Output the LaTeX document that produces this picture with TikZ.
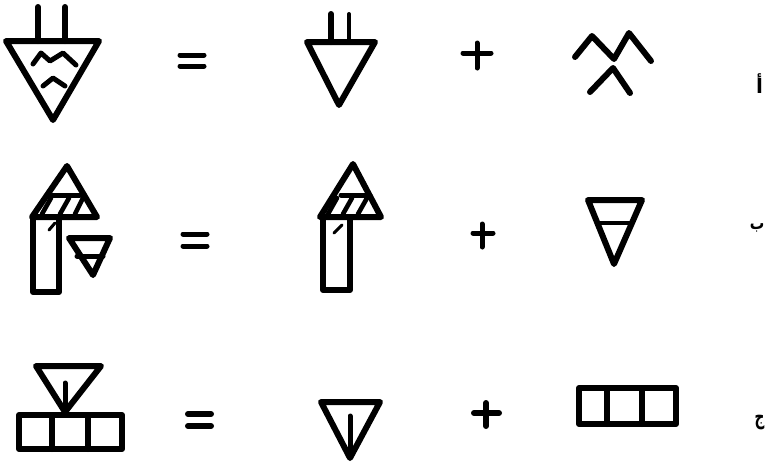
\documentclass[tikz,border=0pt]{standalone}
\usepackage{fontspec}
\newfontfamily\arabicfont[Script=Arabic]{DejaVu Sans}
\TeXXeTstate=1
\tikzset{
  ink/.style={draw=black,line width=6pt,line join=round,line cap=round},
  midink/.style={draw=black,line width=5pt,line join=round,line cap=round},
  thinink/.style={draw=black,line width=4pt,line join=round,line cap=round},
  hatch/.style={draw=black,line width=4.6pt,line cap=round},
  fine/.style={draw=black,line width=3pt,line cap=round},
  letter/.style={inner sep=0pt,font=\arabicfont\bfseries,text=black}
}
\begin{document}
\begin{tikzpicture}[x=1pt,y=-1pt]
\useasboundingbox[fill=white] (0,0) rectangle (765,467);
% Row 1
\draw[ink] (6,41) -- (99,41) -- (53,120) -- cycle;
\draw[ink] (38,7) -- (38,41) (65,7) -- (65,41);
\draw[midink] (33,64) -- (41,53) -- (50,61) -- (63,53) -- (76,65);
\draw[midink] (43,86) -- (53,78) -- (65,86);
\draw[midink] (180,55) -- (204,55) (180,66) -- (204,66);
\draw[ink] (307,42) -- (375,42) -- (339,105) -- cycle;
\draw[ink] (331,14) -- (331,42);
\draw[thinink] (349,14) -- (349,40);
\draw[midink] (463,53) -- (491,53) (477,43) -- (477,68);
\draw[ink] (575,57) -- (592,36) -- (614,59) -- (629,33) -- (651,61);
\draw[ink] (590,92) -- (613,68) -- (630,93);
% Row 2
\draw[ink] (32,217) -- (67,166) -- (97,217) -- cycle;
\draw[midink] (47,195) -- (80,195);
\draw[hatch] (42,214) -- (51,198) (60,214) -- (69,198) (75,214) -- (83,198);
\draw[fine] (49,230) -- (55,223);
\draw[ink] (33,218) -- (33,292) -- (59,292) -- (59,218);
\draw[ink] (69,238) -- (110,238) -- (93,275) -- cycle;
\draw[midink] (77,256) -- (103,256);
\draw[midink] (183,234) -- (207,234) (183,246) -- (207,246);
\draw[ink] (320,217) -- (353,164) -- (381,217) -- cycle;
\draw[midink] (341,195) -- (370,195);
\draw[hatch] (328,214) -- (337,198) (343,214) -- (352,198) (358,214) -- (367,198);
\draw[fine] (334,233) -- (342,225);
\draw[ink] (323,218) -- (323,290) -- (350,290) -- (350,218);
\draw[midink] (473,233) -- (493,233) (482,224) -- (482,247);
\draw[ink] (588,200) -- (642,200) -- (614,264) -- cycle;
\draw[thinink] (597,223) -- (631,223);
% Row 3
\draw[ink] (36,366) -- (101,366) -- (65,412) -- cycle;
\draw[midink] (65,383) -- (65,412);
\draw[ink] (19,415) rectangle (122,449);
\draw[ink] (52,415) -- (52,449) (88,415) -- (88,449);
\draw[ink] (188,414) -- (211,414) (188,426) -- (211,426);
\draw[ink] (321,402) -- (380,402) -- (350,458) -- cycle;
\draw[midink] (350,416) -- (350,456);
\draw[ink] (474,413) -- (499,413) (486,403) -- (486,426);
\draw[ink] (579,388) rectangle (676,424);
\draw[ink] (607,388) -- (607,424) (642,388) -- (642,424);
% Labels, squeezed to fit inside the right edge
\node[letter,anchor=base west,font=\arabicfont\bfseries\fontsize{20}{20}\selectfont] (la) at (756,93) {\beginR أ\endR};
\node[letter,anchor=base east,font=\arabicfont\bfseries\fontsize{18}{18}\selectfont,xscale=.8] (lb) at (764.5,229) {\beginR ب\endR};
\node[letter,anchor=base east,font=\arabicfont\bfseries\fontsize{22}{22}\selectfont,xscale=.62] (lc) at (764.5,424) {\beginR ج\endR};
\end{tikzpicture}
\end{document}
